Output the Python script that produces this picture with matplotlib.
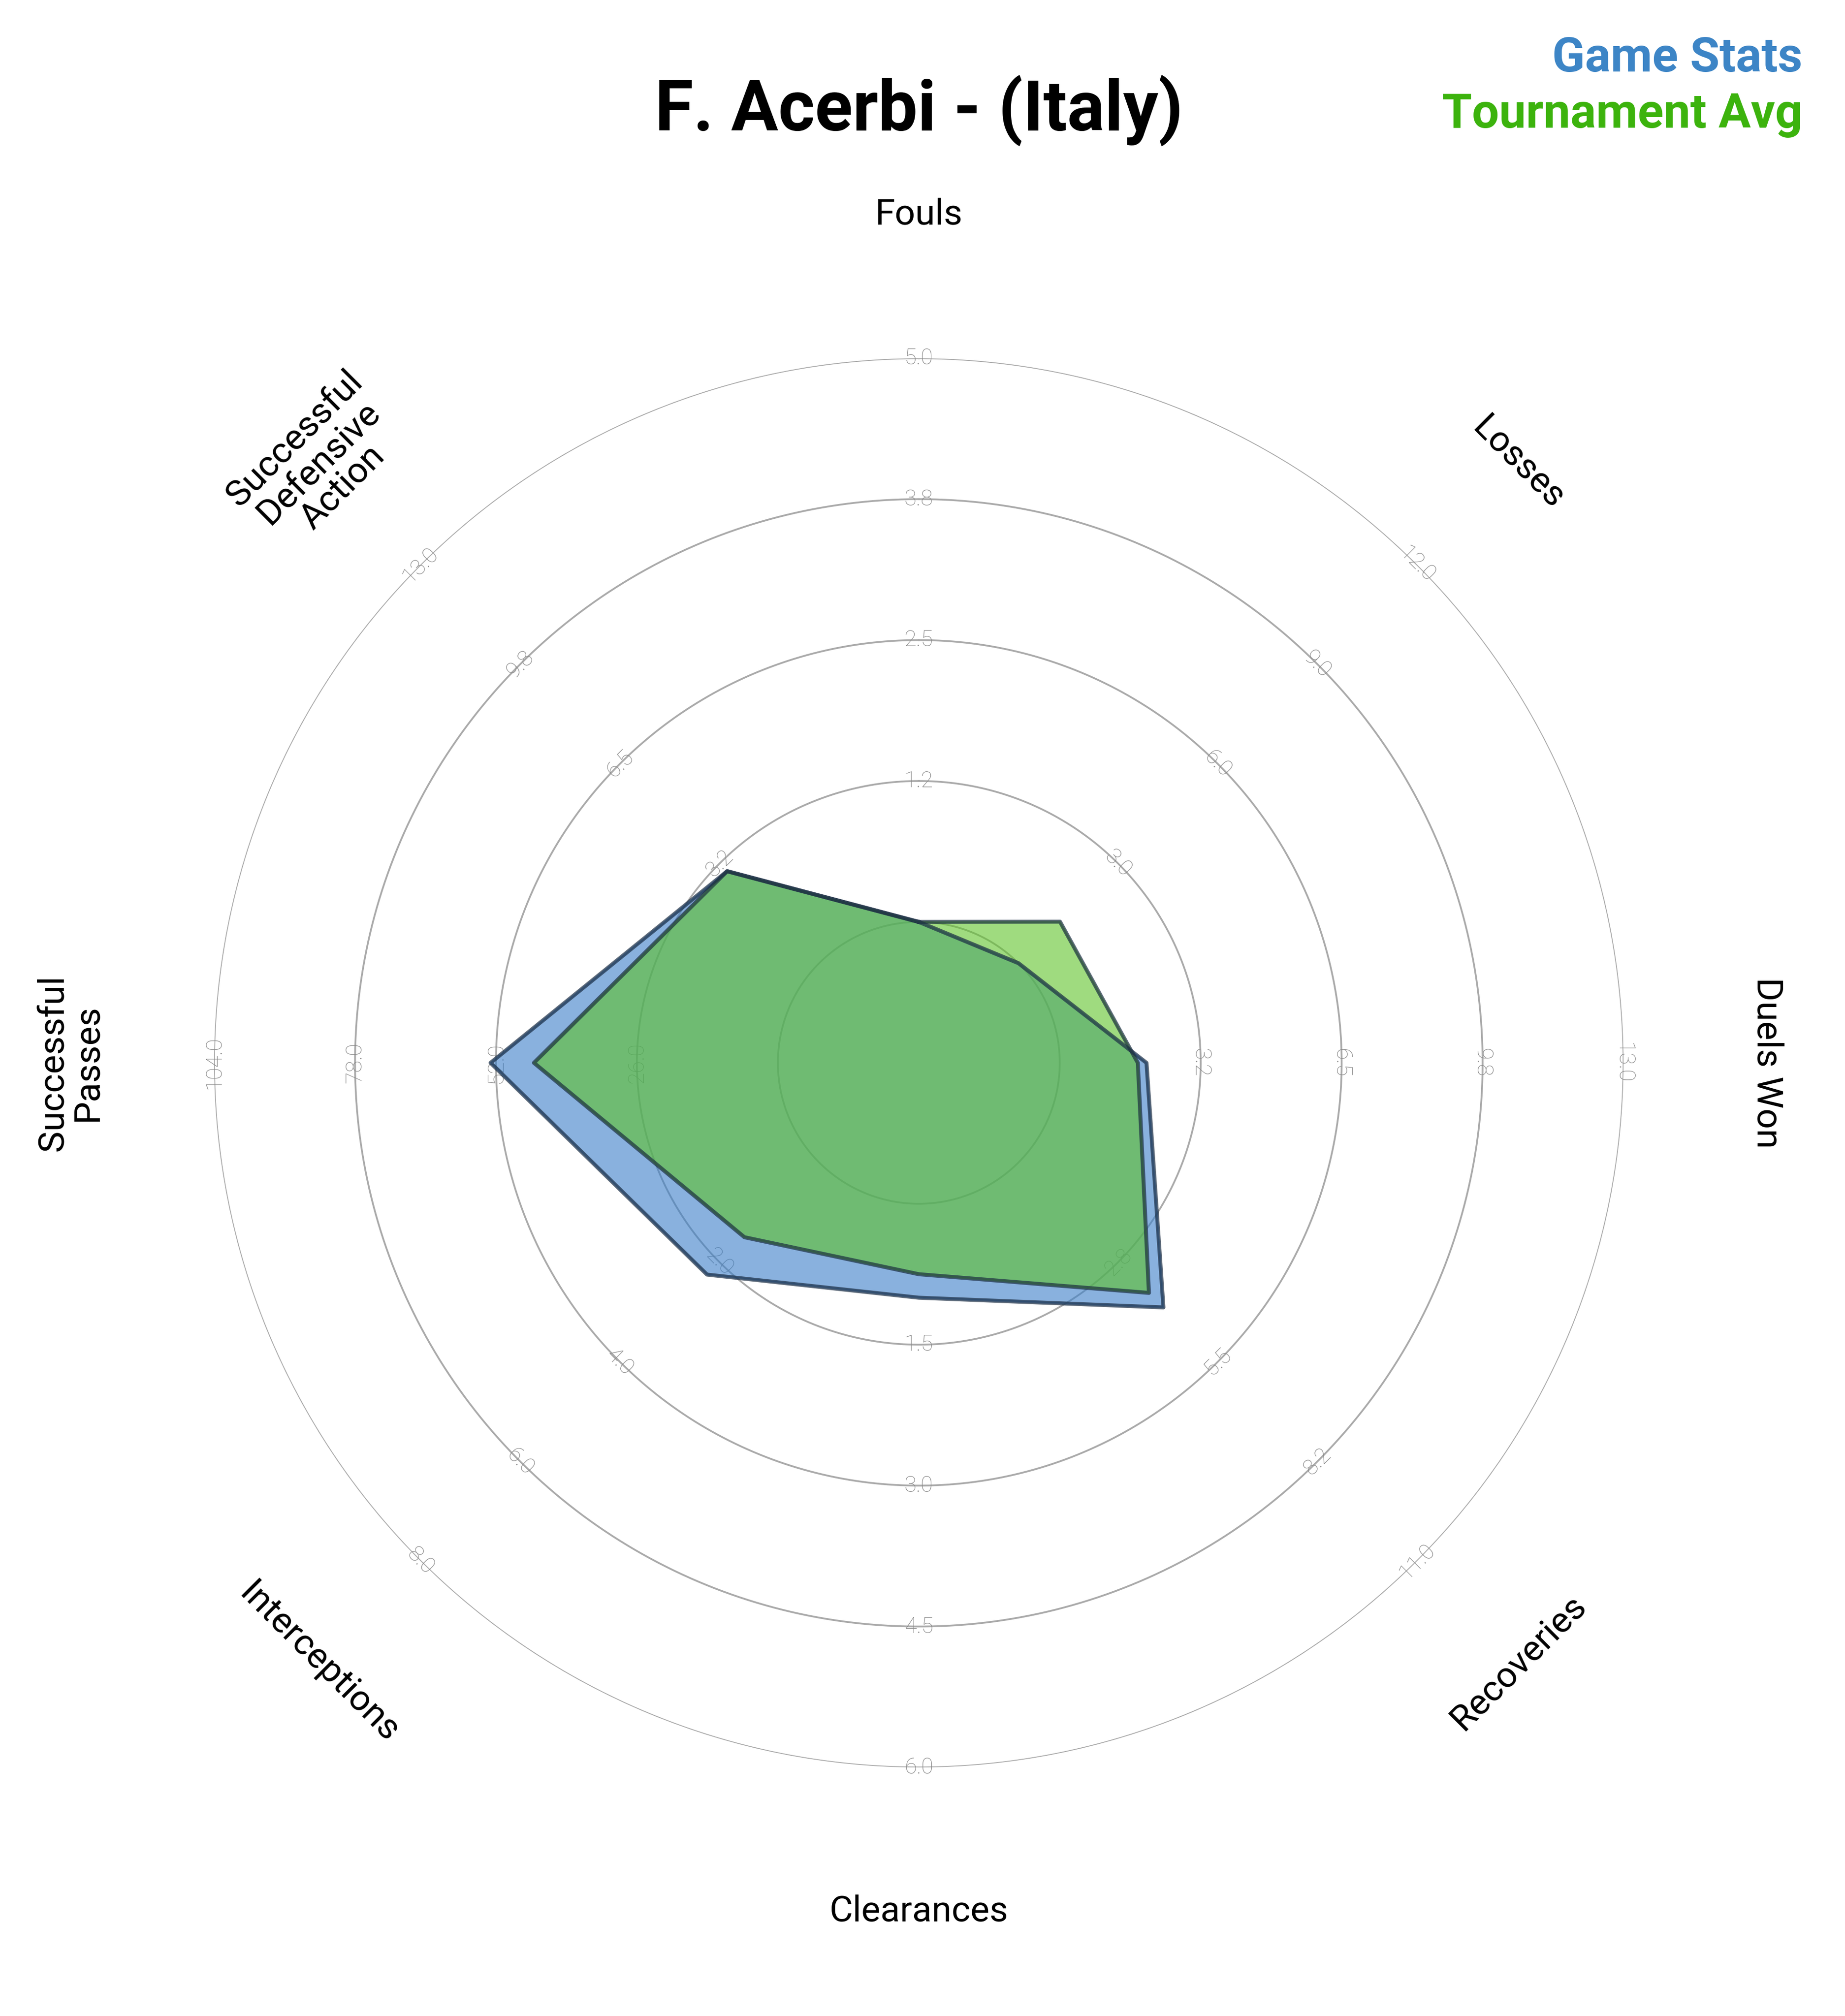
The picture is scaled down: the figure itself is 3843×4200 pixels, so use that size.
import numpy as np
import matplotlib
matplotlib.use("Agg")
import matplotlib.pyplot as plt

plt.rcParams["font.family"] = ["Roboto", "DejaVu Sans"]

# ── data ──────────────────────────────────────────────────────────────────────
params = ["Fouls", "Losses", "Duels Won", "Recoveries", "Clearances",
          "Interceptions", "Successful\nPasses", "Successful\nDefensive\nAction"]
range_max = [5.0, 12.0, 13.0, 11.0, 6.0, 8.0, 104.0, 13.0]
game_stats = [0.0, 0.0, 2.0, 4.0, 1.0, 2.25, 53.0, 3.0]
tourn_avg = [0.0, 1.25, 1.8, 3.6, 0.75, 1.5, 45.0, 3.0]

N_RINGS = 4   # labelled rings beyond the inner one

fig = plt.figure(figsize=(3843 / 300, 4200 / 300), dpi=300)
ax = fig.add_axes([0.116, 0.1233, 0.764, 0.699], projection="polar")
ax.set_theta_offset(np.pi / 2)
ax.set_theta_direction(-1)
ax.set_ylim(0, 5)
ax.axis("off")

n = len(params)
theta = np.arange(n) * 2 * np.pi / n


def scale(vals):
    # inner ring (r=1) is zero, outer ring (r=5) is the axis max
    return [1 + 4 * v / m for v, m in zip(vals, range_max)]


# rings
t = np.linspace(0, 2 * np.pi, 400)
for r in range(1, N_RINGS + 2):
    ax.plot(t, np.full_like(t, r), color="#aaaaaa", lw=0.9, zorder=1)


def rot_for(th_deg):
    rot = -th_deg
    if 90 < th_deg < 270:
        rot += 180
    return rot


# ring tick labels
for th, mx in zip(theta, range_max):
    deg = np.degrees(th)
    for k in range(1, N_RINGS + 1):
        val = mx * k / N_RINGS
        ax.text(th, 1 + k, f"{val:.1f}", rotation=rot_for(deg), rotation_mode="anchor",
                ha="center", va="center", fontsize=11, color="#888888",
                fontweight="light", zorder=2,
                bbox=dict(facecolor="white", edgecolor="none", pad=0.5, alpha=0))

# axis labels
for th, name in zip(theta, params):
    deg = np.degrees(th)
    ax.text(th, 6.02, name, rotation=rot_for(deg), rotation_mode="anchor",
            ha="center", va="center", fontsize=18, color="black",
            linespacing=1.0, clip_on=False)

# polygons
th_closed = np.append(theta, theta[0])
for vals, fc in [(game_stats, "#3a7ec8"), (tourn_avg, "#5fc32a")]:
    r = scale(vals)
    r = np.append(r, r[0])
    ax.fill(th_closed, r, color=fc, alpha=0.6, zorder=3)
    ax.plot(th_closed, r, color="#1d2f45", lw=2, alpha=0.7, zorder=4)

fig.text(0.498, 0.945, "F. Acerbi - (Italy)", ha="center", va="center",
         fontsize=35, fontweight="bold")
fig.text(0.977, 0.971, "Game Stats", ha="right", va="center",
         fontsize=24, fontweight="bold", color="#3d85c6")
fig.text(0.977, 0.943, "Tournament Avg", ha="right", va="center",
         fontsize=24, fontweight="bold", color="#3cb30d")

fig.savefig("out.png", dpi=300, facecolor="white")
